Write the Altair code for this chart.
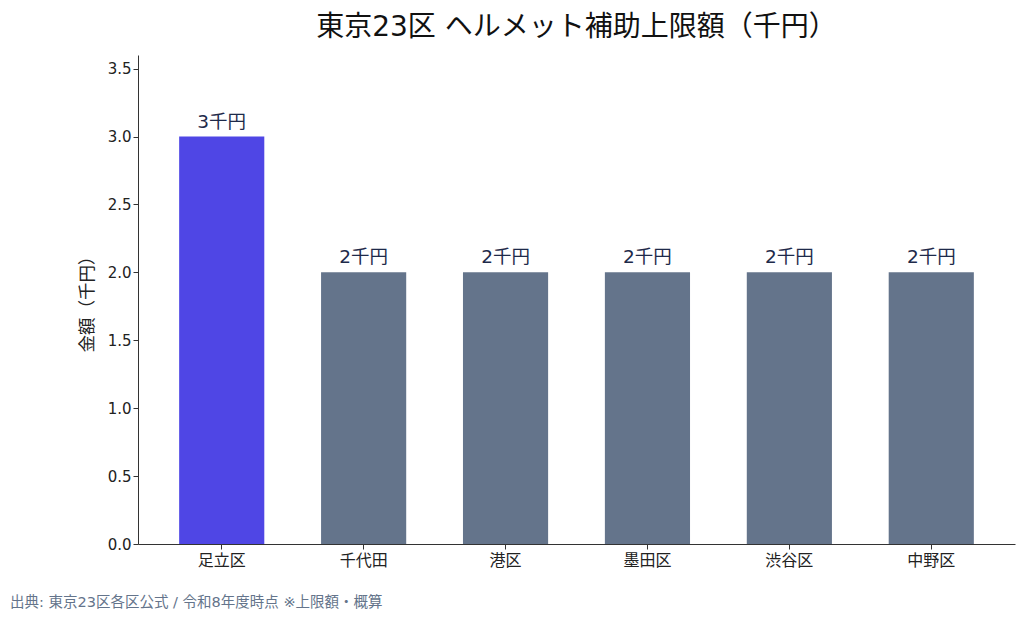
import altair as alt
import pandas as pd

wards = ["足立区", "千代田", "港区", "墨田区", "渋谷区", "中野区"]
values = [3, 2, 2, 2, 2, 2]
labels = ["3千円", "2千円", "2千円", "2千円", "2千円", "2千円"]
highlight = [True, False, False, False, False, False]

df = pd.DataFrame({"ward": wards, "value": values, "label": labels, "hl": highlight})

FONT = "DejaVu Sans, Noto Sans CJK JP"
W, H = 877, 489

x = alt.X("ward:N", sort=wards, title=None,
          scale=alt.Scale(paddingInner=0.4, paddingOuter=0.29),
          axis=alt.Axis(labelAngle=0, labelFontSize=16, labelColor="#222222",
                        labelPadding=3, tickSize=5, tickColor="#333333",
                        domainColor="#333333", labelFont=FONT, grid=False))
y = alt.Y("value:Q", title="金額（千円）",
          scale=alt.Scale(domain=[0, 3.6], nice=False),
          axis=alt.Axis(values=[0, 0.5, 1.0, 1.5, 2.0, 2.5, 3.0, 3.5], format=".1f",
                        labelFontSize=15, labelColor="#222222", tickSize=5,
                        tickColor="#333333", domainColor="#333333", grid=False,
                        titleFontSize=17.5, titleFont=FONT, titleFontWeight="normal",
                        titleColor="#222222", titlePadding=11, labelFont=FONT))

bars = alt.Chart(df).mark_bar().encode(
    x=x, y=y,
    color=alt.Color("hl:N", scale=alt.Scale(domain=[True, False], range=["#4F46E5", "#64748B"]), legend=None),
)
text = alt.Chart(df).mark_text(baseline="bottom", dy=-5, fontSize=18.5, color="#1E2A4A", font=FONT).encode(
    x=alt.X("ward:N", sort=wards), y="value:Q", text="label:N"
)
source = alt.Chart(pd.DataFrame({"t": ["出典: 東京23区各区公式 / 令和8年度時点 ※上限額・概算"]})).mark_text(
    align="left", baseline="middle", fontSize=14.5, color="#64748B", font=FONT
).encode(x=alt.value(-128), y=alt.value(H + 59), text="t:N")

chart = alt.layer(bars, text, source).properties(
    width=W, height=H,
    title=alt.TitleParams("東京23区 ヘルメット補助上限額（千円）", fontSize=28, font=FONT,
                          fontWeight="normal", color="#111111", anchor="middle", offset=13),
    autosize=alt.AutoSizeParams(type="none"),
    padding={"left": 130, "top": 47, "right": 1, "bottom": 70},
).configure(font=FONT).configure_view(stroke=None)

chart.save("out.html", embed_options={"renderer": "svg", "actions": False})
